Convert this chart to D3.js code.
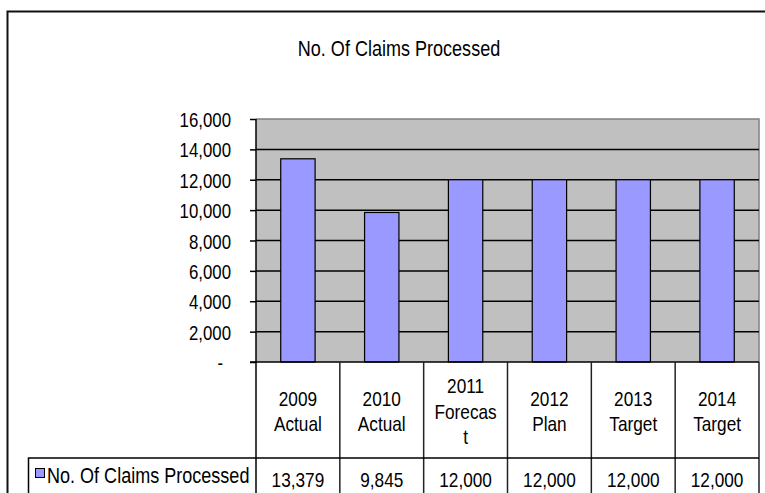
<!DOCTYPE html>
<html>
<head>
<meta charset="utf-8">
<script src="https://cdn.jsdelivr.net/npm/d3@7"></script>
<style>
  html, body { margin: 0; padding: 0; background: #fff; }
  svg { display: block; }
  text { font-family: "Liberation Sans", Arial, sans-serif; fill: #000; }
</style>
</head>
<body>
<svg id="chart" width="765" height="493"></svg>
<script>
// dati del grafico
const chartTitle = "No. Of Claims Processed";
const seriesName = "No. Of Claims Processed";
const categories = ["2009 Actual", "2010 Actual", "2011 Forecast", "2012 Plan", "2013 Target", "2014 Target"];
// righe delle etichette come appaiono nella tabella (testo spezzato)
const categoryLines = [["2009", "Actual"], ["2010", "Actual"], ["2011", "Forecas", "t"], ["2012", "Plan"], ["2013", "Target"], ["2014", "Target"]];
const claims = [13379, 9845, 12000, 12000, 12000, 12000];
const yTicks = [0, 2000, 4000, 6000, 8000, 10000, 12000, 14000, 16000];

const svg = d3.select("#chart");

// area del grafico
const plot = { left: 256, right: 759, top: 119, bottom: 362 };
const headerBottom = 458;
const tableBottom = 493;

// font stretto simulato: compressione orizzontale del testo
const NARROW = 0.82;
function place(sel, px, py) {
    sel.attr("x", 0).attr("y", 0)
        .attr("transform", `translate(${px},${py}) scale(${NARROW},1)`);
    return sel;
}

/* scale */
const x = d3.scaleBand()
    .domain(categories)
    .range([plot.left, plot.right])
    .padding(0);

const y = d3.scaleLinear()
    .domain([0, 16000])
    .range([plot.bottom, plot.top]);

const fmt = d3.format(",");
const barW = x.bandwidth() * 0.41;

// cornice esterna
svg.append("path")
    .attr("d", `M7.5,${tableBottom + 2} V11.5 H770`)
    .attr("fill", "none")
    .attr("stroke", "#111")
    .attr("stroke-width", 2);

// titolo
svg.append("text")
    .attr("text-anchor", "middle")
    .attr("font-size", 22)
    .text(chartTitle)
    .call(place, 399, 56);

// sfondo area del grafico
svg.append("rect")
    .attr("x", plot.left)
    .attr("y", plot.top)
    .attr("width", plot.right - plot.left)
    .attr("height", plot.bottom - plot.top)
    .attr("fill", "#c0c0c0");

// bordo grigio in alto e a destra
svg.append("path")
    .attr("d", `M${plot.left},${plot.top} H${plot.right} V${plot.bottom}`)
    .attr("fill", "none")
    .attr("stroke", "#808080")
    .attr("stroke-width", 1.5);

// griglia orizzontale
svg.append("g")
    .selectAll("line")
    .data(yTicks.filter(d => d > 0 && d < 16000))
    .join("line")
    .attr("x1", plot.left)
    .attr("x2", plot.right)
    .attr("y1", d => y(d))
    .attr("y2", d => y(d))
    .attr("stroke", "#000")
    .attr("stroke-width", 1.5);

// barre
svg.append("g")
    .selectAll("rect")
    .data(claims)
    .join("rect")
    .attr("x", (d, i) => x(categories[i]) + (x.bandwidth() - barW) / 2)
    .attr("y", d => y(d))
    .attr("width", barW)
    .attr("height", d => y(0) - y(d))
    .attr("fill", "#9999ff")
    .attr("stroke", "#000")
    .attr("stroke-width", 1.2);

// asse Y
const yAxis = d3.axisLeft(y)
    .tickValues(yTicks)
    .tickSize(6)
    .tickFormat(d => d === 0 ? "-" : fmt(d));

const gy = svg.append("g")
    .attr("transform", `translate(${plot.left},0)`)
    .call(yAxis);
gy.select(".domain").remove();
gy.selectAll(".tick line").attr("stroke", "#000").attr("stroke-width", 1.5);
gy.selectAll(".tick text")
    .attr("dy", null)
    .attr("font-size", 20.5)
    .attr("font-family", null)
    .each(function (d) {
        d3.select(this).call(place, d === 0 ? -33 : -25, 7.5);
    });

// linea verticale dell'asse (continua nella tabella)
svg.append("line")
    .attr("x1", plot.left).attr("x2", plot.left)
    .attr("y1", plot.top).attr("y2", tableBottom + 2)
    .attr("stroke", "#000")
    .attr("stroke-width", 1.5);

// asse X
svg.append("line")
    .attr("x1", plot.left - 6).attr("x2", plot.right)
    .attr("y1", plot.bottom).attr("y2", plot.bottom)
    .attr("stroke", "#000")
    .attr("stroke-width", 1.5);

/* tabella dati sotto il grafico */
const table = svg.append("g");

// separatori verticali delle categorie
table.selectAll("line.sep")
    .data(categories)
    .join("line")
    .attr("class", "sep")
    .attr("x1", d => x(d) + x.bandwidth())
    .attr("x2", d => x(d) + x.bandwidth())
    .attr("y1", plot.bottom)
    .attr("y2", tableBottom + 2)
    .attr("stroke", "#222")
    .attr("stroke-width", 1.5);

// riga della legenda
table.append("path")
    .attr("d", `M28.5,${tableBottom + 2} V${headerBottom} H${plot.right}`)
    .attr("fill", "none")
    .attr("stroke", "#000")
    .attr("stroke-width", 1.5);

// etichette delle categorie
const lh = 25.5;
table.selectAll("g.cat")
    .data(categoryLines)
    .join("g")
    .attr("class", "cat")
    .each(function (lines, i) {
        const cx = x(categories[i]) + x.bandwidth() / 2;
        const first = 411 - (lines.length - 1) * lh / 2 + 7.5;
        d3.select(this).selectAll("text")
            .data(lines)
            .join("text")
            .attr("text-anchor", "middle")
            .attr("font-size", 21)
            .text(d => d)
            .each(function (d, j) {
                d3.select(this).call(place, cx, first + j * lh);
            });
    });

// valori
table.selectAll("text.val")
    .data(claims)
    .join("text")
    .attr("class", "val")
    .attr("text-anchor", "middle")
    .attr("font-size", 21)
    .text(d => fmt(d))
    .each(function (d, i) {
        d3.select(this).call(place, x(categories[i]) + x.bandwidth() / 2, 487);
    });

// legenda
table.append("rect")
    .attr("x", 35.5)
    .attr("y", 468.5)
    .attr("width", 9)
    .attr("height", 9)
    .attr("fill", "#9999ff")
    .attr("stroke", "#000")
    .attr("stroke-width", 1);

table.append("text")
    .attr("font-size", 22)
    .text(seriesName)
    .call(place, 47, 483);
</script>
</body>
</html>
